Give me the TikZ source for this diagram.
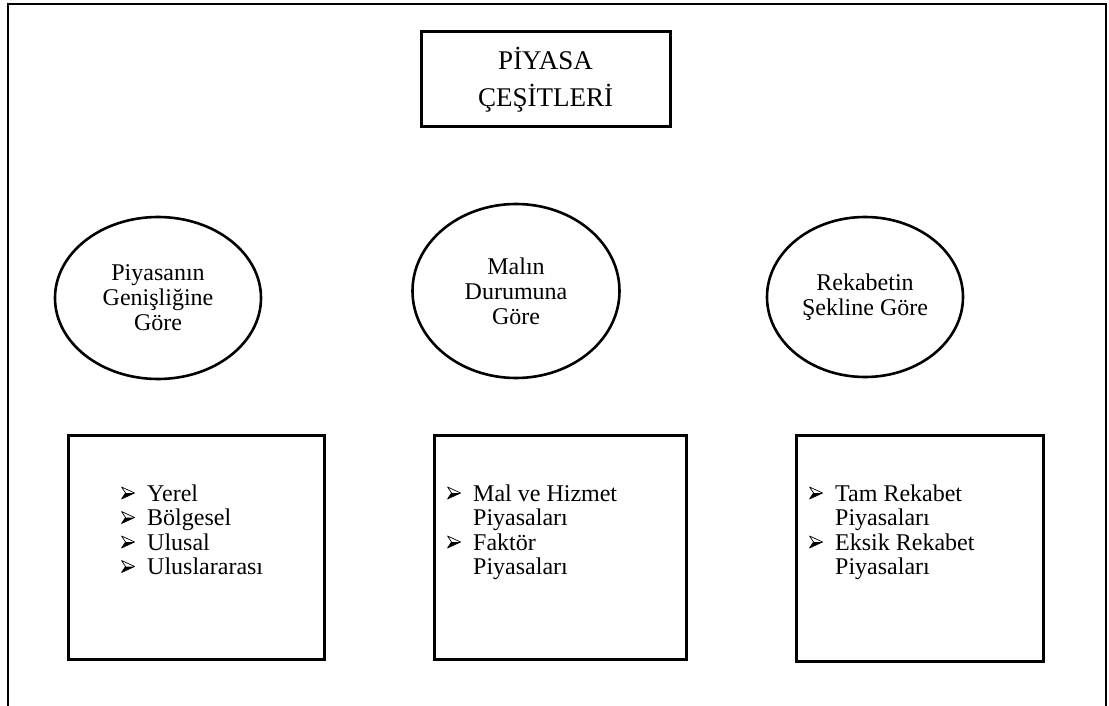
\documentclass[tikz,border=0pt]{standalone}
\usepackage{fontspec}
\setmainfont{Liberation Serif}
\usepackage{tikz}
\usetikzlibrary{shapes.geometric}
\newcommand{\madde}{\makebox[26pt][l]{\tikz[x=1pt, y=1pt, baseline=-2pt]{\draw[line width=0.7pt, line join=round](0, 12)--(13, 6)--(0, 0)--(4, 6)--cycle; \fill(4, 6)--(13, 6)--(0, 0)--cycle;}}}

\begin{document}
\begin{tikzpicture}[x=1pt, y=-1pt,
		cerceve/.style={line width=2.4pt},
		kutu/.style={draw, line width=3pt, inner sep=0pt},
		elips/.style={draw, ellipse, line width=2.6pt, inner sep=0pt, align=center, font=\fontsize{24}{25}\selectfont},
		liste/.style={anchor=base west, inner sep=0pt, font=\fontsize{24}{24.5}\selectfont}]
		\useasboundingbox(0, 0) rectangle (1109, 706);
		\draw[cerceve](8, 706)--(8, 4)--(1106, 4)--(1106, 706);
		\node[kutu, minimum width=249, minimum height=95, align=center, font=\fontsize{27}{37}\selectfont] (baslik) at(545.5, 79.5){PİYASA\\ÇEŞİTLERİ};
		\node[elips, minimum width=206, minimum height=162] (genislik) at(158, 298){Piyasanın\\Genişliğine\\Göre};
		\node[elips, minimum width=207, minimum height=174] (durum) at(516, 291){Malın\\Durumuna\\Göre};
		\node[elips, minimum width=196, minimum height=160] (rekabet) at(865, 297){Rekabetin\\Şekline Göre};
		\node[kutu, minimum width=256, minimum height=224] (genislikkutu) at(196, 547){};
		\node[kutu, minimum width=252, minimum height=224] (durumkutu) at(560, 547){};
		\node[kutu, minimum width=247, minimum height=226] (rekabetkutu) at(919.5, 548){};
		\node[liste] (genislikliste) at(121, 501){\begin{tabular}[t]{@{}l@{}l@{}}
			\madde & Yerel\\ \madde & Bölgesel\\ \madde & Ulusal\\ \madde & Uluslararası
		\end{tabular}};
		\node[liste] (durumliste) at(447, 501){\begin{tabular}[t]{@{}l@{}l@{}}
			\madde & Mal ve Hizmet\\ & Piyasaları\\ \madde & Faktör\\ & Piyasaları
		\end{tabular}};
		\node[liste] (rekabetliste) at(809, 501){\begin{tabular}[t]{@{}l@{}l@{}}
			\madde & Tam Rekabet\\ & Piyasaları\\ \madde & Eksik Rekabet\\ & Piyasaları
		\end{tabular}};
	\end{tikzpicture}
\end{document}
